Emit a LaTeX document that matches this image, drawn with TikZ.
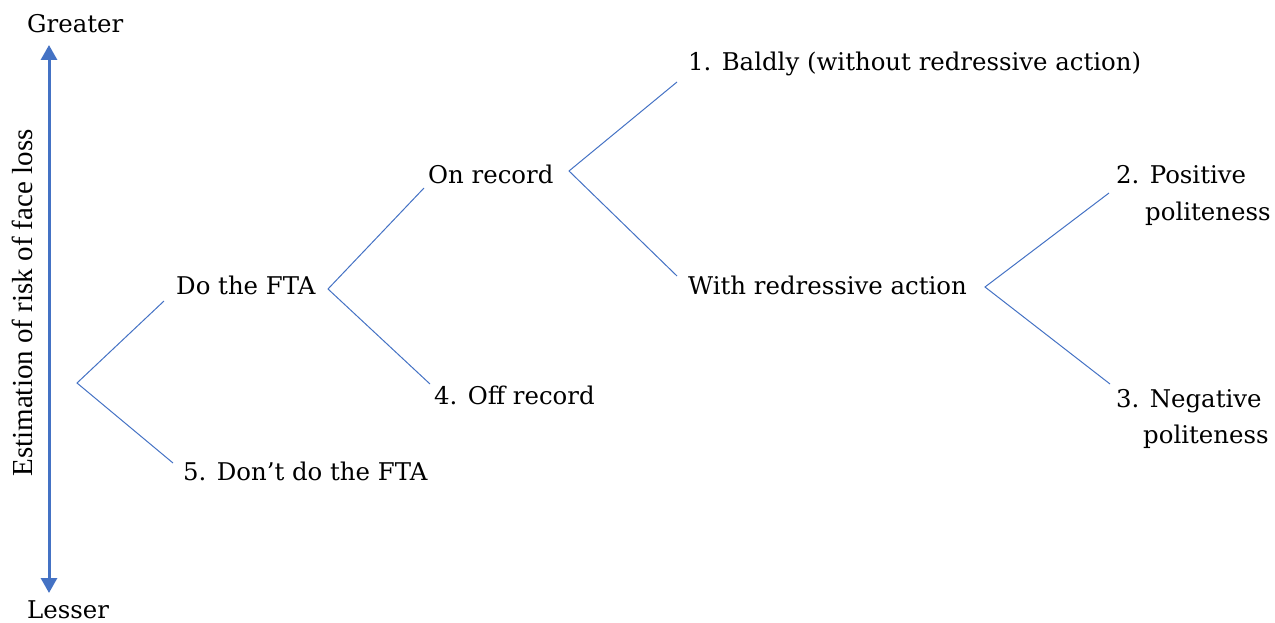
\documentclass[tikz,border=0pt]{standalone}
\usepackage{fontspec}
\setmainfont{DejaVu Serif}
\newfontfamily\timesfont{Liberation Serif}
\usetikzlibrary{arrows.meta}
\definecolor{lineblue}{HTML}{4472C4}
\begin{document}
\begin{tikzpicture}[x=1pt,y=-1pt,
  lbl/.style={inner sep=0pt,anchor=base west,font=\fontsize{24.4}{28}\selectfont},
  branch/.style={draw=lineblue,line width=1pt},
  axis/.style={draw=lineblue,line width=3pt,{Triangle[width=16pt,length=15pt]}-{Triangle[width=16pt,length=15pt]}}]
\useasboundingbox (0,0) rectangle (1275,623);
% axis
\coordinate (top) at (49,45);
\coordinate (bot) at (49,593);
\draw[axis] (top) -- (bot);
\node[lbl] (greater) at (27,33) {Greater};
\node[lbl] (lesser) at (27,618) {Lesser};
\node[inner sep=0pt,rotate=90,anchor=base,font=\timesfont\fontsize{29}{32}\selectfont] (est) at (32.5,303) {Estimation of risk of face loss};
% labels
\node[lbl] (dofta) at (176,294) {Do the FTA};
\node[lbl] (dont) at (183,480) {5. Don’t do the FTA};
\node[lbl] (onrec) at (428,183) {On record};
\node[lbl] (offrec) at (434,404) {4. Off record};
\node[lbl] (bald) at (688,71) {1. Baldly (without redressive action)};
\node[lbl] (redr) at (688,294) {With redressive action};
\node[lbl] (pos) at (1116,183) {2. Positive};
\node[lbl] (pos2) at (1145,220) {politeness};
\node[lbl] (neg) at (1116,407) {3. Negative};
\node[lbl] (neg2) at (1143,443) {politeness};
% branch points
\coordinate (r0) at (77,383);
\coordinate (r0a) at (164,301);
\coordinate (r0b) at (173,463);
\coordinate (r1) at (328,289);
\coordinate (r1a) at (424,188);
\coordinate (r1b) at (430,384);
\coordinate (r2) at (569,171);
\coordinate (r2a) at (677,82);
\coordinate (r2b) at (677,276);
\coordinate (r3) at (985,287);
\coordinate (r3a) at (1109,193);
\coordinate (r3b) at (1110,384);
\draw[branch] (r0a) -- (r0) -- (r0b);
\draw[branch] (r1a) -- (r1) -- (r1b);
\draw[branch] (r2a) -- (r2) -- (r2b);
\draw[branch] (r3a) -- (r3) -- (r3b);
\end{tikzpicture}
\end{document}
